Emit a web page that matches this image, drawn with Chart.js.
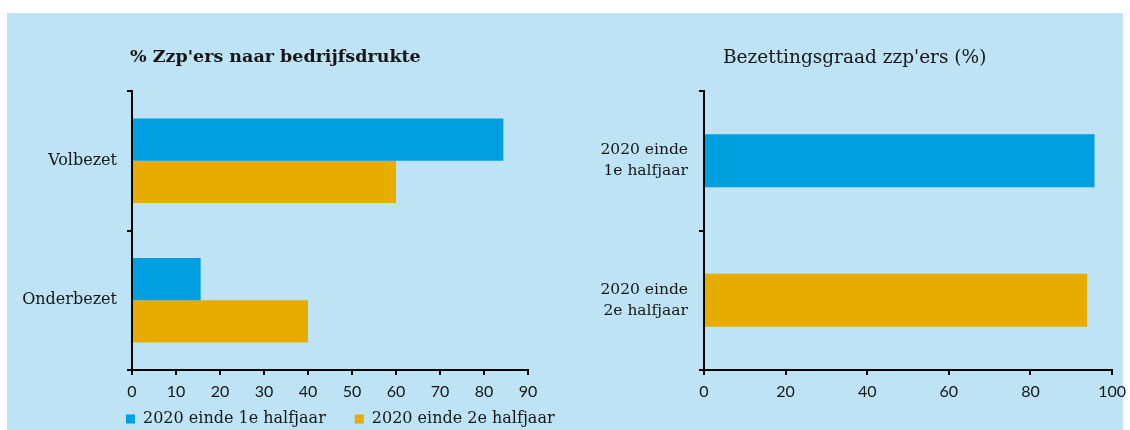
<!DOCTYPE html>
<html>
<head>
<meta charset="utf-8">
<script src="https://cdn.jsdelivr.net/npm/chart.js@4"></script>
<style>
body{margin:0;background:#fff;width:1130px;height:430px;overflow:hidden;position:relative}
#panel{position:absolute;left:7px;top:13px;width:1116px;height:417px;background:#bde3f5}
.box{position:absolute;top:13px}
#left{left:7px;width:558px;height:446px}
#right{left:565px;width:568px;height:424px}
</style>
</head>
<body>
<div id="panel"></div>
<div class="box" id="left"><canvas id="c1"></canvas></div>
<div class="box" id="right"><canvas id="c2"></canvas></div>
<script>
// left chart
const leftTitle="% Zzp'ers naar bedrijfsdrukte";
const leftCats=["Volbezet","Onderbezet"];
const seriesNames=["2020 einde 1e halfjaar","2020 einde 2e halfjaar"];
const firstHalf=[84.4,15.6];
const secondHalf=[60,40];
const leftMax=90, leftStep=10;

// right chart
const rightTitle="Bezettingsgraad zzp'ers (%)";
const rightCats=[["2020 einde","1e halfjaar"],["2020 einde","2e halfjaar"]];
const occupancy=[95.7,93.9];
const rightMax=100, rightStep=20;

const BLUE="#009fe0", ORANGE="#e8ab00", INK="#161616";
const SERIF="'DejaVu Serif', serif";

const sideTitle={id:"sideTitle",afterDraw(c,a,o){
const x=c.ctx;x.save();
x.font=o.font;x.fillStyle=INK;x.textBaseline="middle";
x.fillText(o.text,c.chartArea.left+o.dx,o.y);
x.restore();
}};
// move the legend under the axis labels
const nudgeLegend={id:"nudgeLegend",afterLayout(c,a,o){
const l=c.legend;if(!l)return;
l.left+=o.dx;l.right+=o.dx;l.top+=o.dy;l.bottom+=o.dy;
}};

function axisGrid(){
return {display:true,drawOnChartArea:false,drawTicks:true,tickLength:5,color:"#000",lineWidth:2};
}
function valueAxis(max,step,h){
return {
min:0,max:max,
ticks:{stepSize:step,color:INK,padding:7,font:{family:"Lato",size:16}},
grid:axisGrid(),
border:{display:true,color:"#000",width:2},
afterFit(s){s.height=h;}
};
}
function catAxis(w,pad,size){
return {
ticks:{color:INK,padding:pad,font:{family:SERIF,size:size,lineHeight:1.35}},
grid:Object.assign(axisGrid(),{offset:true}),
border:{display:true,color:"#000",width:2},
afterFit(s){s.width=w;}
};
}

new Chart(document.getElementById("c1"),{
type:"bar",
plugins:[sideTitle,nudgeLegend],
data:{labels:leftCats,datasets:[
{label:seriesNames[0],data:firstHalf,backgroundColor:BLUE},
{label:seriesNames[1],data:secondHalf,backgroundColor:ORANGE}
]},
options:{
indexAxis:"y",responsive:true,maintainAspectRatio:false,animation:false,
categoryPercentage:0.606,barPercentage:1,
layout:{padding:{top:78,right:37,left:0,bottom:0}},
scales:{x:valueAxis(leftMax,leftStep,34),y:catAxis(125,10,16)},
plugins:{
legend:{position:"bottom",align:"start",
labels:{boxWidth:9,boxHeight:9,padding:29,color:INK,font:{family:SERIF,size:16}}},
tooltip:{enabled:false},
sideTitle:{text:leftTitle,dx:-2,y:44,font:"bold 17.5px "+SERIF},
nudgeLegend:{dx:90,dy:-22}
}
}
});

new Chart(document.getElementById("c2"),{
type:"bar",
plugins:[sideTitle],
data:{labels:rightCats,datasets:[
{label:rightTitle,data:occupancy,backgroundColor:[BLUE,ORANGE]}
]},
options:{
indexAxis:"y",responsive:true,maintainAspectRatio:false,animation:false,
categoryPercentage:1,barPercentage:0.38,
layout:{padding:{top:78,right:1,left:0,bottom:33}},
scales:{x:valueAxis(rightMax,rightStep,34),y:catAxis(139,11,15.5)},
plugins:{
legend:{display:false},
tooltip:{enabled:false},
sideTitle:{text:rightTitle,dx:19,y:45,font:"18.5px "+SERIF}
}
}
});
</script>
</body>
</html>
